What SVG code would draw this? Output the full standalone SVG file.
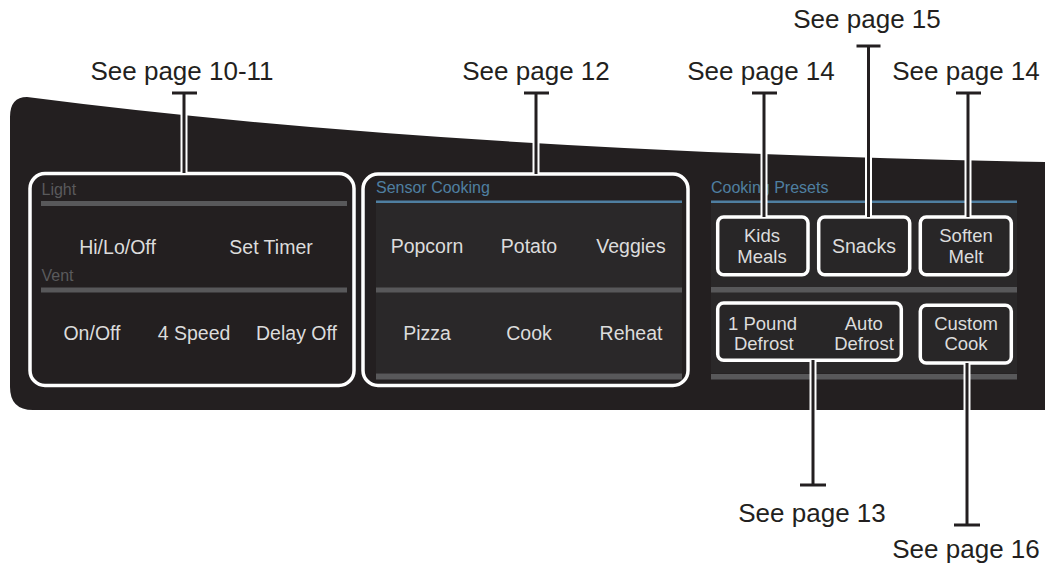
<svg xmlns="http://www.w3.org/2000/svg" width="1045" height="568" viewBox="0 0 1045 568">
<style>
  text { font-family: "Liberation Sans", Arial, sans-serif; }
  .lbl { font-size: 26px; fill: #231f20; text-anchor: middle; }
  .btn { font-size: 19.5px; fill: #dcdcdc; text-anchor: middle; }
  .two { font-size: 18.5px; }
  .sec { font-size: 16px; fill: #5a5a5c; }
  .blue { font-size: 16px; fill: #4f7fa1; }
  .bar { fill: #58585a; }
  .bline { fill: #4f7fa1; }
  .area { fill: #2a2829; }
  .grp { fill: none; stroke: #ffffff; stroke-width: 3.5; }
  .key { fill: #282627; stroke: #ffffff; stroke-width: 3.5; }
  .halo { stroke: #ffffff; stroke-width: 7; fill: none; }
  .wire { stroke: #231f20; stroke-width: 3; fill: none; }
</style>

<!-- panel -->
<path id="panel" d="M10,117 Q10,97 27,97 Q444,151 1045,162 L1045,410 L33,410 Q10,410 10,387 Z" fill="#231f20"/>

<!-- Light / Vent group -->
<g id="group-light-vent">
  <rect class="bar" x="41" y="201" width="306" height="5"/>
  <rect class="bar" x="41" y="287.5" width="306" height="5"/>
  <text class="sec" x="41.5" y="195">Light</text>
  <text class="sec" x="41.5" y="281">Vent</text>
  <text class="btn" x="117.5" y="254">Hi/Lo/Off</text>
  <text class="btn" x="271" y="254">Set Timer</text>
  <text class="btn" x="92" y="340">On/Off</text>
  <text class="btn" x="194" y="340">4 Speed</text>
  <text class="btn" x="296.5" y="340">Delay Off</text>
  <rect class="grp" x="30" y="173.5" width="324" height="212" rx="15"/>
</g>

<!-- Sensor Cooking group -->
<g id="group-sensor">
  <rect class="area" x="376" y="202.5" width="306" height="171"/>
  <rect class="bline" x="376" y="200.5" width="306" height="2.5"/>
  <rect class="bar" x="376" y="287.5" width="306" height="5"/>
  <rect class="bar" x="376" y="373.5" width="306" height="6"/>
  <text class="blue" x="376" y="193.3">Sensor Cooking</text>
  <text class="btn" x="427" y="253.3">Popcorn</text>
  <text class="btn" x="529" y="253.3">Potato</text>
  <text class="btn" x="631" y="253.3">Veggies</text>
  <text class="btn" x="427" y="340">Pizza</text>
  <text class="btn" x="529" y="340">Cook</text>
  <text class="btn" x="631" y="340">Reheat</text>
  <rect class="grp" x="363" y="174" width="325" height="211.5" rx="15"/>
</g>

<!-- Cooking Presets group -->
<g id="group-presets">
  <rect class="area" x="711" y="202.5" width="306" height="171"/>
  <rect class="bline" x="711" y="200.5" width="306" height="2.5"/>
  <rect class="bar" x="711" y="287" width="306" height="5.5"/>
  <rect class="bar" x="711" y="374" width="306" height="5.5"/>
  <text class="blue" x="711" y="193.3">Cooking Presets</text>
</g>

<g id="key-kids-meals">
  <rect class="key" x="717.7" y="217" width="90.3" height="57.7" rx="6"/>
  <text class="btn two" x="762" y="242.3">Kids</text>
  <text class="btn two" x="762" y="262.8">Meals</text>
</g>
<g id="key-snacks">
  <rect class="key" x="818.7" y="217" width="91" height="57.7" rx="6"/>
  <text class="btn" x="864" y="253.3">Snacks</text>
</g>
<g id="key-soften-melt">
  <rect class="key" x="920.3" y="217" width="91" height="57.7" rx="6"/>
  <text class="btn two" x="966" y="242.3">Soften</text>
  <text class="btn two" x="966" y="262.8">Melt</text>
</g>
<g id="key-defrost">
  <rect class="key" x="717.7" y="303" width="183.6" height="57.3" rx="6"/>
  <text class="btn two" x="762.5" y="329.5">1 Pound</text>
  <text class="btn two" x="763.8" y="350">Defrost</text>
  <text class="btn two" x="863.8" y="329.5">Auto</text>
  <text class="btn two" x="864" y="350">Defrost</text>
</g>
<g id="key-custom-cook">
  <rect class="key" x="920.3" y="305.3" width="91" height="57.7" rx="6"/>
  <text class="btn two" x="966" y="329.5">Custom</text>
  <text class="btn two" x="966" y="350">Cook</text>
</g>

<!-- connectors -->
<g id="connectors">
  <g class="halo">
    <line x1="184" y1="112" x2="184" y2="173"/>
    <line x1="536" y1="138" x2="536" y2="174"/>
    <line x1="764" y1="150" x2="764" y2="217"/>
    <line x1="868.5" y1="155" x2="868.5" y2="217"/>
    <line x1="968" y1="157" x2="968" y2="217"/>
    <line x1="813" y1="360" x2="813" y2="412"/>
    <line x1="967" y1="363" x2="967" y2="412"/>
  </g>
  <g class="wire">
    <line x1="184" y1="93" x2="184" y2="173"/>
    <line x1="536" y1="93" x2="536" y2="174"/>
    <line x1="764" y1="93" x2="764" y2="217"/>
    <line x1="868.5" y1="46" x2="868.5" y2="217"/>
    <line x1="968" y1="93" x2="968" y2="217"/>
    <line x1="813" y1="360" x2="813" y2="485"/>
    <line x1="967" y1="363" x2="967" y2="525"/>
    <line x1="172" y1="93" x2="197" y2="93"/>
    <line x1="524" y1="93" x2="549" y2="93"/>
    <line x1="752" y1="93" x2="777" y2="93"/>
    <line x1="856.5" y1="46" x2="880.5" y2="46"/>
    <line x1="956" y1="93" x2="981" y2="93"/>
    <line x1="800" y1="485" x2="826" y2="485"/>
    <line x1="954" y1="525" x2="980" y2="525"/>
  </g>
</g>

<!-- page references -->
<g id="labels">
  <text class="lbl" x="182" y="80">See page 10-11</text>
  <text class="lbl" x="536" y="80">See page 12</text>
  <text class="lbl" x="761" y="80">See page 14</text>
  <text class="lbl" x="867" y="28">See page 15</text>
  <text class="lbl" x="966" y="80">See page 14</text>
  <text class="lbl" x="812" y="521.7">See page 13</text>
  <text class="lbl" x="966" y="558.3">See page 16</text>
</g>
</svg>
